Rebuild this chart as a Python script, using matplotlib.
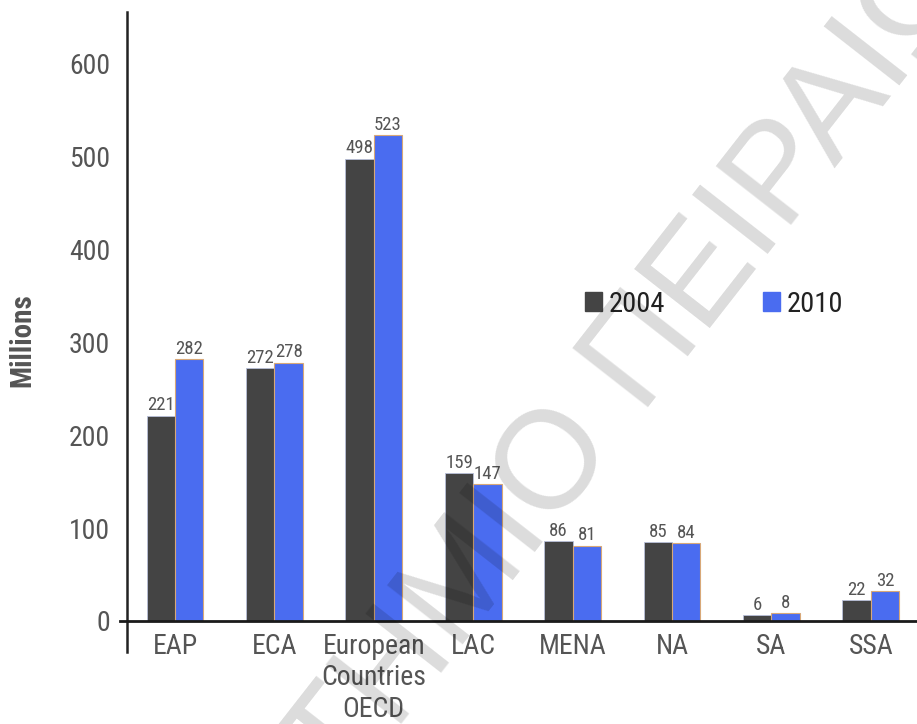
import matplotlib
matplotlib.use("Agg")
import matplotlib.pyplot as plt
import matplotlib.patches as mpatches
import numpy as np

plt.rcParams['font.family'] = ['Roboto Condensed', 'Open Sans Condensed', 'DejaVu Sans']

regions = ["EAP", "ECA", "European\nCountries\nOECD", "LAC", "MENA", "NA", "SA", "SSA"]
values_2004 = [221, 272, 498, 159, 86, 85, 6, 22]
values_2010 = [282, 278, 523, 147, 81, 84, 8, 32]
yticks = [0, 100, 200, 300, 400, 500, 600]

dark = '#444444'
blue = '#4a6cf0'
label_grey = '#555555'

fig = plt.figure(figsize=(9.17, 7.24), dpi=100)
ax = fig.add_axes([127 / 917, 1 - 652 / 724, 790 / 917, 640 / 724])

x = np.arange(len(regions))
w = 0.285
b1 = ax.bar(x - w / 2, values_2004, w, color=dark, edgecolor='#b8c0d8', linewidth=0.6, zorder=2)
b2 = ax.bar(x + w / 2, values_2010, w, color=blue, edgecolor='#d8a878', linewidth=0.8, zorder=2)

for bars, vals in ((b1, values_2004), (b2, values_2010)):
    for r, v in zip(bars, vals):
        ax.annotate(str(v), (r.get_x() + r.get_width() / 2, v), xytext=(0, 1),
                    textcoords='offset points', ha='center', va='bottom',
                    fontsize=13.5, color=label_grey, zorder=3)

ax.set_xlim(-0.483, 7.465)
ax.set_ylim(-33.5, 656)
ax.set_xticks(x)
ax.set_xticklabels(regions, fontsize=20, color=label_grey, linespacing=1.2)
ax.set_yticks(yticks)
ax.set_yticklabels([str(t) for t in yticks], fontsize=20, color=label_grey)
ax.tick_params(axis='both', length=0)
ax.tick_params(axis='y', pad=12)
ax.tick_params(axis='x', pad=-13.5)

for s in ('top', 'right', 'bottom'):
    ax.spines[s].set_visible(False)
ax.spines['left'].set_color('#222222')
ax.spines['left'].set_linewidth(1.8)

# baseline at zero, poking slightly past the left spine
ax.plot([-0.55, 7.465], [0, 0], color='#1a1a1a', lw=2, clip_on=False, zorder=4)

fig.text(22 / 917, 1 - 340 / 724, 'Millions', rotation=90, ha='center', va='center',
         fontsize=21, fontweight='bold', color=label_grey)

handles = [mpatches.Patch(color=dark, label='2004'), mpatches.Patch(color=blue, label='2010')]
leg = fig.legend(handles=handles, loc='center left', bbox_to_anchor=(585 / 917, 1 - 304 / 724),
                 ncol=2, frameon=False, fontsize=20.5, handlelength=0.6, handleheight=0.6,
                 handletextpad=0.22, columnspacing=3.45, borderaxespad=0, borderpad=0)
for t in leg.get_texts():
    t.set_color('#222222')

# diagonal watermark
fig.text(471 / 917, 1 - 576 / 724, 'ΠΑΝΕΠΙΣΤΗΜΙΟ ΠΕΙΡΑΙΩΣ', rotation=52,
         rotation_mode='anchor', ha='center', va='center', fontsize=100,
         family=['Liberation Sans', 'DejaVu Sans'], color='black', alpha=0.14, zorder=10)

fig.savefig('out.png', dpi=100)
